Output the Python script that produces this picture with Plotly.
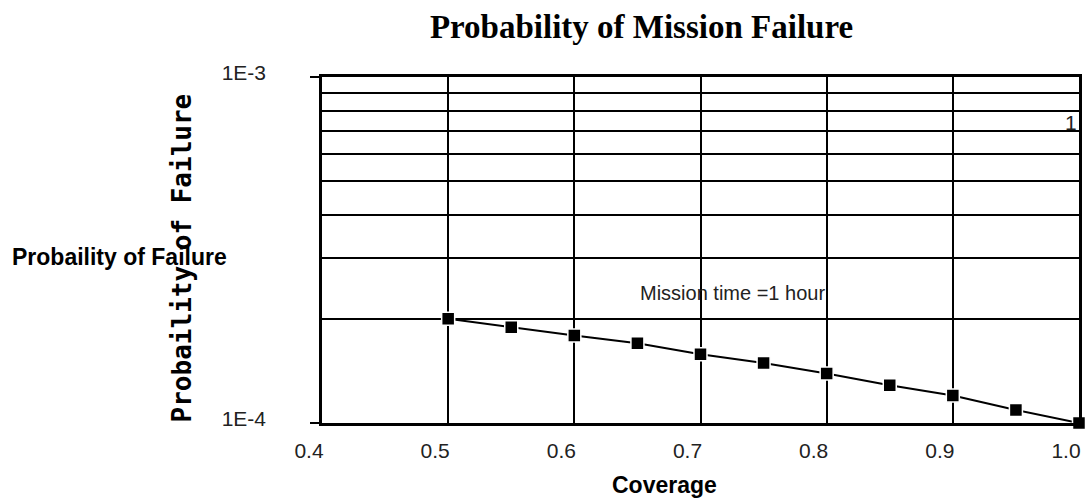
import numpy as np
import plotly.graph_objects as go

# Coverage values and the probability of mission failure at each one
coverage = [0.50, 0.55, 0.60, 0.65, 0.70, 0.75, 0.80, 0.85, 0.90, 0.95, 1.00]
p_fail = [2.00e-4, 1.89e-4, 1.79e-4, 1.70e-4, 1.58e-4, 1.49e-4,
          1.39e-4, 1.285e-4, 1.20e-4, 1.09e-4, 1.00e-4]

x_ticks = [0.4, 0.5, 0.6, 0.7, 0.8, 0.9, 1.0]
x_tick_text = ["0.4", "0.5", "0.6", "0.7", "0.8", "0.9", "1.0"]
y_ticks = [1e-4, 1e-3]
y_tick_text = ["1E-4", "1E-3"]
y_minor = [2e-4, 3e-4, 4e-4, 5e-4, 6e-4, 7e-4, 8e-4, 9e-4]

SANS = "Liberation Sans, Arial, sans-serif"

fig = go.Figure()
fig.add_trace(go.Scatter(
    x=coverage, y=p_fail, mode="lines+markers",
    line=dict(color="black", width=2),
    marker=dict(symbol="square", size=13, color="black",
                line=dict(color="white", width=1.5)),
    cliponaxis=False, showlegend=False,
))

fig.update_layout(
    width=1092, height=502,
    margin=dict(l=322, r=13, t=77, b=79, autoexpand=False),
    paper_bgcolor="white", plot_bgcolor="white",
    title=dict(text="Probability of Mission Failure",
               font=dict(family="Liberation Serif, Times New Roman, serif",
                         size=33, color="black", weight="bold"),
               xref="container", x=641.5 / 1092, xanchor="center",
               yref="container", y=1 - 26 / 502, yanchor="middle"),
    xaxis=dict(
        range=[0.4, 1.0], tickvals=x_ticks, ticktext=x_tick_text,
        showgrid=True, gridcolor="black", gridwidth=2,
        showline=True, linecolor="black", linewidth=2.5, mirror=True,
        ticks="", zeroline=False, automargin=False,
        tickfont=dict(family=SANS, size=21, color="#222"),
        ticklabelshift=-13, ticklabelstandoff=7,
    ),
    yaxis=dict(
        type="log", range=[-4, -3], tickvals=y_ticks, ticktext=y_tick_text,
        showgrid=True, gridcolor="black", gridwidth=2,
        minor=dict(tickvals=y_minor, showgrid=True, gridcolor="black",
                   gridwidth=2, ticks=""),
        showline=True, linecolor="black", linewidth=2.5, mirror=True,
        ticks="outside", ticklen=9, tickwidth=2, tickcolor="black",
        zeroline=False, automargin=False,
        tickfont=dict(family=SANS, size=21, color="#222"),
        ticklabelstandoff=40, ticklabelshift=-4,
    ),
    annotations=[
        dict(text="Probaility of Failure", xref="paper", yref="paper",
             x=(182 - 322.3) / 756.7, y=(422.7 - 257.5) / 346,
             xanchor="center", yanchor="middle", textangle=-90, showarrow=False,
             font=dict(family="DejaVu Sans Mono", size=26, color="black",
                       weight="bold")),
        dict(text="Probaility of Failure", xref="paper", yref="paper",
             x=(10 - 322.3) / 756.7, y=(422.7 - 256.7) / 346,
             xanchor="left", yanchor="middle", showarrow=False,
             font=dict(family=SANS, size=23, color="black", weight="bold")),
        dict(text="Coverage", xref="paper", yref="paper",
             x=(665 - 322.3) / 756.7, y=-(485 - 422.7) / 346,
             xanchor="center", yanchor="middle", showarrow=False,
             font=dict(family=SANS, size=23, color="black", weight="bold")),
        dict(text="Mission time =1 hour", xref="x", yref="y",
             x=0.8, y=np.log10(2.38e-4), xanchor="right", yanchor="middle",
             showarrow=False,
             font=dict(family=SANS, size=20, color="#222")),
        dict(text="1", xref="paper", yref="paper",
             x=1.0, y=(422.7 - 122) / 346, xanchor="right", yanchor="middle",
             showarrow=False,
             font=dict(family=SANS, size=21, color="#222")),
    ],
)

fig.write_html("out.html")
